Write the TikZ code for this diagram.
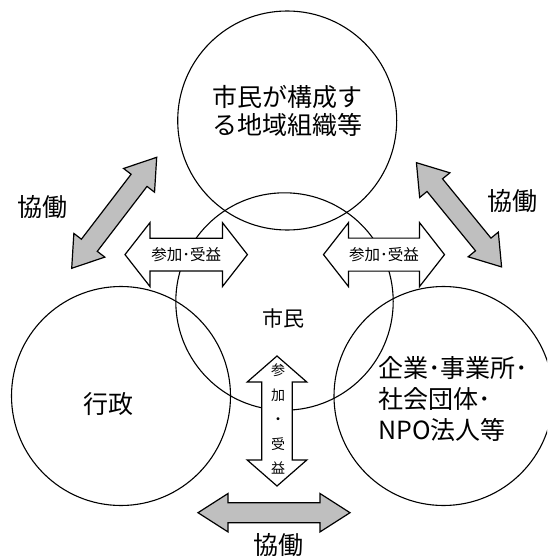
\documentclass[tikz,border=0pt]{standalone}
\usepackage{fontspec}
\setmainfont{Noto Sans CJK JP}
\newcommand{\dblarrow}[7]{%
  \begin{scope}[shift={#2},rotate=#3]
    \filldraw[#1] (-#4,0) -- (-#4+#5,#7) -- (-#4+#5,#6) -- (#4-#5,#6) -- (#4-#5,#7) -- (#4,0)
      -- (#4-#5,-#7) -- (#4-#5,-#6) -- (-#4+#5,-#6) -- (-#4+#5,-#7) -- cycle;
  \end{scope}}
\begin{document}
\begin{tikzpicture}[x=1pt,y=-1pt,line join=miter,
  ring/.style={circle,draw=black,line width=1.1pt,minimum size=219pt,inner sep=0pt},
  grayarr/.style={fill=black!25,draw=black,line width=1.2pt},
  whitearr/.style={fill=white,draw=black,line width=1.2pt},
  bigtxt/.style={font=\fontsize{25}{28.5}\selectfont,inner sep=0pt},
  midtxt/.style={font=\fontsize{21}{24}\selectfont,inner sep=0pt},
  smalltxt/.style={font=\fontsize{15.5}{18}\selectfont,inner sep=0pt},
  verttxt/.style={font=\fontsize{14}{24.5}\selectfont,inner sep=0pt,align=center}]
\useasboundingbox (0,0) rectangle (547,559);
\clip (0,0) rectangle (547,559);
% circles
\node[ring] (org) at (287.2,120.5) {};
\node[ring,minimum size=217.4pt] (citizen) at (284.5,301.5) {};
\node[ring] (gov) at (121,396) {};
\node[ring] (biz) at (443.5,396) {};
% arrow centres
\coordinate (gl) at (114.2,212.8);
\coordinate (gr) at (459,214.8);
\coordinate (gb) at (274,512.7);
\coordinate (wl) at (186.2,254.6);
\coordinate (wr) at (384,254.6);
\coordinate (wv) at (277,421);
% gray collaboration arrows
\dblarrow{grayarr}{(gl)}{52.56}{69.9}{29}{10}{19.5}
\dblarrow{grayarr}{(gr)}{-50.75}{67.3}{29}{10}{19.5}
\dblarrow{grayarr}{(gb)}{0}{76}{30}{10}{19.2}
% white participation arrows
\dblarrow{whitearr}{(wl)}{0}{61.2}{25}{16.3}{32}
\dblarrow{whitearr}{(wr)}{0}{60.5}{25}{16.5}{32}
\dblarrow{whitearr}{(wv)}{90}{65}{26}{15.2}{29.8}
% texts
\node[bigtxt,align=center] (torg) at (287.5,111) {市民が構成す\\る地域組織等};
\node[midtxt] (tcit) at (283,318) {市民};
\node[bigtxt] (tgov) at (108.3,404) {行政};
\node[bigtxt,align=left,anchor=west,font=\fontsize{25}{31}\selectfont] (tbiz) at (378,399) {企業･事業所･\\社会団体･\\NPO法人等};
\node[bigtxt] (kl) at (42.5,206.7) {協働};
\node[bigtxt] (kr) at (512,201) {協働};
\node[bigtxt] (kb) at (278,545.5) {協働};
\node[smalltxt] (pl) at (wl) {参加･受益};
\node[smalltxt] (pr) at (wr) {参加･受益};
\node[verttxt] (pv) at (278,419) {参\\加\\・\\受\\益};
\end{tikzpicture}
\end{document}
